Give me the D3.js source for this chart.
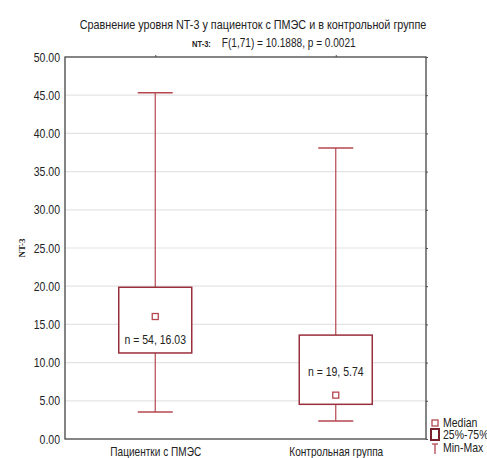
<!DOCTYPE html>
<html lang="ru">
<head>
<meta charset="utf-8">
<title>NT-3 box plot</title>
<script src="https://cdn.jsdelivr.net/npm/d3@7"></script>
<style>
body { margin: 0; background: #fff; }
svg text { font-family: "Liberation Sans", Arial, sans-serif; fill: #222; }
</style>
</head>
<body>
<div id="chart"></div>
<script>
// groups and box statistics
var groups = ["Пациентки с ПМЭС", "Контрольная группа"];
var nValues = [54, 19];
var medians = [16.03, 5.74];
var q1 = [11.26, 4.54];
var q3 = [19.86, 13.6];
var mins = [3.53, 2.36];
var maxs = [45.33, 38.1];
var yTicks = [0, 5, 10, 15, 20, 25, 30, 35, 40, 45, 50];

var W = 487, H = 458;
var margin = {top: 57, right: 61, bottom: 19, left: 65};
var width = W - margin.left - margin.right;
var height = H - margin.top - margin.bottom;
var red = "#9a2f3c", wred = "#b5474f";
var narrow = 0.84; // the original font is a condensed Arial

var svg = d3.select("#chart").append("svg")
  .attr("width", W).attr("height", H);

// text squeezed horizontally around its own x
function ntext(parent, x, y, s, size) {
  return parent.append("text")
    .attr("transform", "translate(" + x + "," + y + ") scale(" + s + ",1)")
    .style("font-size", size + "px");
}

//titles
ntext(svg, 253, 29, 0.865, 12.5)
  .attr("text-anchor", "middle")
  .text("Сравнение уровня  NT-3 у пациенток с ПМЭС и в контрольной группе");

var sub = ntext(svg, 192, 47, narrow, 12);
sub.append("tspan").style("font-size", "9px").style("font-weight", "bold").text("NT-3:");
sub.append("tspan").attr("dx", 13).text("F(1,71) = 10.1888, p = 0.0021");

var g = svg.append("g")
  .attr("transform", "translate(" + margin.left + "," + margin.top + ")");

var x = d3.scalePoint().domain(groups).range([0, width]).padding(0.5);
var y = d3.scaleLinear().domain([0, 50]).range([height, 0]);

// grid
g.selectAll(".grid").data(yTicks.slice(1, -1)).enter()
  .append("line")
  .attr("x1", 0).attr("x2", width)
  .attr("y1", function(d) { return y(d); })
  .attr("y2", function(d) { return y(d); })
  .attr("stroke", "#e4e4e4").attr("stroke-width", 1.2);

// axes
var yAxis = d3.axisLeft(y).tickValues(yTicks).tickFormat(d3.format(".2f")).tickSize(0).tickPadding(6);
var ya = g.append("g").call(yAxis);
ya.select(".domain").remove();
ya.selectAll("text").style("font-size", "12.5px").attr("fill", "#222")
  .attr("transform", "scale(" + narrow + ",1)");

var yr = g.append("g").attr("transform", "translate(" + width + ",0)")
  .call(d3.axisRight(y).tickValues(yTicks).tickSize(2).tickFormat(""));
yr.select(".domain").remove();
yr.selectAll("line").attr("stroke", "#555");

var xAxis = d3.axisBottom(x).tickSize(0).tickPadding(8);
var xa = g.append("g").attr("transform", "translate(0," + height + ")").call(xAxis);
xa.select(".domain").remove();
xa.selectAll("text").style("font-size", "12px").attr("fill", "#222")
  .attr("transform", "scale(" + narrow + ",1)");

var xt = g.append("g").call(d3.axisTop(x).tickSize(2).tickFormat(""));
xt.select(".domain").remove();
xt.selectAll("line").attr("stroke", "#555");

// frame
g.append("rect")
  .attr("width", width).attr("height", height)
  .attr("fill", "none").attr("stroke", "#444").attr("stroke-width", 1.3);

// y title
svg.append("text")
  .attr("transform", "translate(25," + (margin.top + y(25)) + ") rotate(-90)")
  .attr("text-anchor", "middle")
  .style("font-family", "'Liberation Serif', 'Times New Roman', serif")
  .style("font-size", "9px").style("font-weight", "bold")
  .text("NT-3");

// boxes
var boxW = 73, capW = 35;
var data = groups.map(function(k, i) {
  return {k: k, n: nValues[i], med: medians[i], q1: q1[i], q3: q3[i], min: mins[i], max: maxs[i]};
});

var bx = g.selectAll(".box").data(data).enter().append("g")
  .attr("transform", function(d) { return "translate(" + x(d.k) + ",0)"; });

bx.append("line")
  .attr("y1", function(d) { return y(d.max); })
  .attr("y2", function(d) { return y(d.q3); })
  .attr("stroke", wred).attr("stroke-width", 1.2);
bx.append("line")
  .attr("y1", function(d) { return y(d.q1); })
  .attr("y2", function(d) { return y(d.min); })
  .attr("stroke", wred).attr("stroke-width", 1.2);
bx.append("line")
  .attr("x1", -capW / 2).attr("x2", capW / 2)
  .attr("y1", function(d) { return y(d.max); })
  .attr("y2", function(d) { return y(d.max); })
  .attr("stroke", wred).attr("stroke-width", 1.5);
bx.append("line")
  .attr("x1", -capW / 2).attr("x2", capW / 2)
  .attr("y1", function(d) { return y(d.min); })
  .attr("y2", function(d) { return y(d.min); })
  .attr("stroke", wred).attr("stroke-width", 1.5);

bx.append("rect")
  .attr("x", -boxW / 2).attr("width", boxW)
  .attr("y", function(d) { return y(d.q3); })
  .attr("height", function(d) { return y(d.q1) - y(d.q3); })
  .attr("fill", "#fff").attr("stroke", red).attr("stroke-width", 1.5);

bx.append("rect")
  .attr("x", -3).attr("width", 6).attr("height", 6)
  .attr("y", function(d) { return y(d.med) - 3; })
  .attr("fill", "#fff").attr("stroke", wred).attr("stroke-width", 1.3);

// n labels: below median for 1st group, above for 2nd
bx.append("text")
  .attr("text-anchor", "middle")
  .attr("transform", function(d, i) {
    var ty = i === 0 ? y(d.med) + 27 : y(d.med) - 19;
    return "translate(0," + ty + ") scale(" + narrow + ",1)";
  })
  .style("font-size", "12.5px")
  .text(function(d) { return "n = " + d.n + ", " + d3.format(".2f")(d.med); });

// legend
var lg = svg.append("g").attr("transform", "translate(432,0)");
lg.append("rect").attr("x", 0).attr("y", 420).attr("width", 6).attr("height", 6)
  .attr("fill", "#fff").attr("stroke", wred).attr("stroke-width", 1.3);
ntext(lg, 11, 427, narrow, 12.5).text("Median");
lg.append("rect").attr("x", -1).attr("y", 429).attr("width", 8).attr("height", 11)
  .attr("fill", "#fff").attr("stroke", "#7a1f2c").attr("stroke-width", 2);
ntext(lg, 11, 439, narrow, 12.5).text("25%-75%");
lg.append("line").attr("x1", 0).attr("x2", 6).attr("y1", 444).attr("y2", 444)
  .attr("stroke", wred).attr("stroke-width", 1.3);
lg.append("line").attr("x1", 3).attr("x2", 3).attr("y1", 444).attr("y2", 454)
  .attr("stroke", wred).attr("stroke-width", 1.3);
ntext(lg, 11, 452, narrow, 12.5).text("Min-Max");
</script>
</body>
</html>
